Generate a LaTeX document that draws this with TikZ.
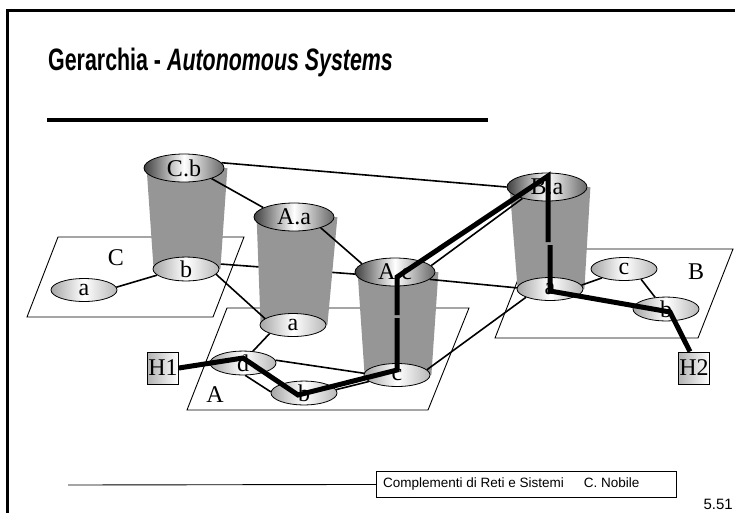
\documentclass[tikz,border=0pt]{standalone}
\usepackage{graphicx}
\usepackage{fontspec}
\setmainfont{Liberation Serif}
\newfontfamily\arialfont{Liberation Sans}
\usepackage{tikz}
\usetikzlibrary{shapes.geometric}
\pgfdeclarelayer{back}
\pgfdeclarelayer{mid}
\pgfdeclarelayer{front}
\pgfsetlayers{back,mid,main,front}
\definecolor{cylgray}{RGB}{150,150,150}
\newcommand\lblfont{\fontsize{24}{26}\selectfont}
\tikzset{
  lid/.style={ellipse, draw, line width=0.8, inner sep=0, minimum width=80, minimum height=28,
    left color=black!75, right color=black!60, middle color=white, font=\lblfont},
  disk/.style={ellipse, draw, line width=0.8, inner sep=0, minimum width=66, minimum height=23,
    left color=black!35, right color=black!28, middle color=white, font=\lblfont},
  host/.style={rectangle, draw, line width=0.8, inner sep=0, minimum width=31, minimum height=32,
    left color=black!30, right color=white, font=\lblfont},
  aslabel/.style={inner sep=0, font=\lblfont},
  link/.style={line width=1.6},
  route/.style={line width=5},
  plane/.style={line width=0.9}
}

\begin{document}
\begin{tikzpicture}[x=1pt,y=-1pt]
\useasboundingbox (0,0) rectangle (735,512);
\draw[line width=3] (7,10) rectangle (760,540);
\node[anchor=base west, inner sep=0] (title) at (48,70)
  {\scalebox{0.69}[1]{\arialfont\fontsize{31}{34}\selectfont\bfseries Gerarchia - \itshape Autonomous Systems}};
\draw[line width=4] (47,120) -- (488,120);

\node[lid] (Cbtop) at (184,168) {C.b};
\node[disk] (Cb) at (186,269) {b};
\node[lid] (Aatop) at (294,217) {A.a};
\node[disk] (Aa) at (293,325) {a};
\node[lid] (Actop) at (395,272) {A.c};
\node[disk] (Ac) at (397,375) {c};
\node[lid] (Batop) at (547,187) {B.a};
\node[disk] (Ba) at (550,289) {a};
\node[disk] (Ca) at (84,290) {a};
\node[disk] (Ad) at (243,363) {d};
\node[disk] (Ab) at (304,393) {b};
\node[disk] (Bc) at (624,269) {c};
\node[disk] (Bb) at (666,309) {b};
\node[host] (H1) at (163,368) {H1};
\node[host] (H2) at (694,368) {H2};
\node[aslabel] (Clab) at (116,258) {C};
\node[aslabel] (Alab) at (215,395) {A};
\node[aslabel] (Blab) at (696,272) {B};

\begin{pgfonlayer}{back}
\draw[plane] (58,237) -- (244,237) -- (213,317) -- (27,317) -- cycle;
\draw[plane] (227,308) -- (469,308) -- (428,410) -- (187,410) -- cycle;
\draw[plane] (530,249) -- (733,249) -- (698,338) -- (495,338) -- cycle;
\draw[link] (Cb.10) -- (Actop.183);
\end{pgfonlayer}

\begin{pgfonlayer}{mid}
\fill[cylgray] ([xshift=3]Cbtop.west) -- ([xshift=1]Cb.west) -- ([xshift=1]Cb.east) -- ([xshift=3]Cbtop.east) -- cycle;
\fill[cylgray] ([xshift=3]Aatop.west) -- ([xshift=1]Aa.west) -- ([xshift=1]Aa.east) -- ([xshift=3]Aatop.east) -- cycle;
\fill[cylgray] ([xshift=3]Actop.west) -- ([xshift=1]Ac.west) -- ([xshift=1]Ac.east) -- ([xshift=3]Actop.east) -- cycle;
\fill[cylgray] ([xshift=3]Batop.west) -- ([xshift=1]Ba.west) -- ([xshift=1]Ba.east) -- ([xshift=3]Batop.east) -- cycle;
\draw[link] (Cbtop.8) -- (Batop.west);
\draw[link] (Cbtop.-21) -- (Aatop.163);
\draw[link] (Aatop.-22) -- (Actop.166);
\draw[link] (Ca.5) -- (Cb.192);
\draw[link] (Cb.-10) -- (Aa.167);
\draw[link] (Aa.200) -- (Ad.50);
\draw[link] (Ad.5) -- (Ac.177);
\draw[link] (Ad.-80) -- (Ab.178);
\draw[link] (Ab.6) -- (Ac.193);
\draw[link] (Actop.10) -- (Batop.205);
\draw[link] (Actop.-12) -- (Ba.178);
\draw[link] (Ac.10) -- (Ba.199);
\draw[link] (Ba.7) -- (Bc.202);
\draw[link] (Bc.-31) -- (Bb.133);
\end{pgfonlayer}

\coordinate (gapA1) at (397,318);
\coordinate (gapA2) at (397,315);
\coordinate (gapB1) at (548,242);
\coordinate (gapB2) at (550,245);
\begin{pgfonlayer}{front}
\draw[route] (H1.east) -- ([yshift=5]Ad.center) -- ([xshift=-6,yshift=-2]Ab.center) -- ([yshift=5]Ac.center) -- (gapA1);
\draw[route] (gapA2) -- ([xshift=2,yshift=-5]Actop.center) -- ([xshift=1,yshift=11]Batop.center) -- (gapB1);
\draw[route] (gapB2) -- ([yshift=-2]Ba.center) -- ([xshift=4,yshift=-3]Bb.center) -- ([xshift=-4]H2.north);
\end{pgfonlayer}

\node[draw, line width=0.9, minimum width=300, minimum height=26, inner sep=0, anchor=north west] (foot) at (376,471) {};
\node[anchor=west, inner sep=0, font=\arialfont\fontsize{13.5}{15}\selectfont] (foottext) at ([xshift=7]foot.west)
  {Complementi di Reti e Sistemi\hspace{20pt}C. Nobile};
\coordinate (footstart) at (68,485);
\draw[line width=0.9] (footstart) -- (foot.west);
\node[anchor=base east, inner sep=0, font=\arialfont\fontsize{15}{17}\selectfont] (pagenum) at (733,509) {5.51};
\end{tikzpicture}
\end{document}
